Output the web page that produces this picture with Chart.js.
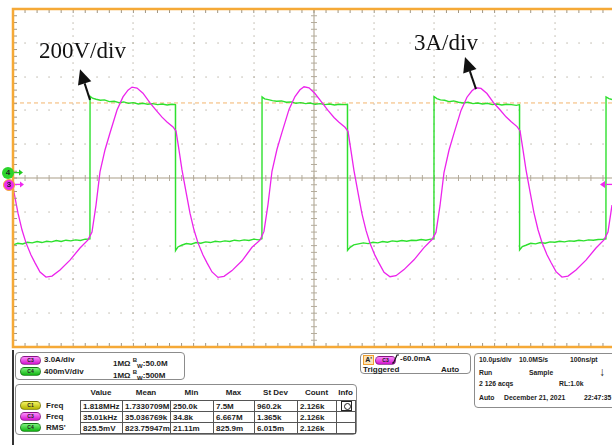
<!DOCTYPE html>
<html>
<head>
<meta charset="utf-8">
<script src="https://cdn.jsdelivr.net/npm/chart.js@4.4.1/dist/chart.umd.min.js"></script>
<style>
  body { margin: 0; width: 612px; height: 445px; position: relative; overflow: hidden; background: #fff; font-family: 'Liberation Sans', Arial, sans-serif; }
  #wrap { position: absolute; left: 0; top: 0; width: 612px; height: 350px; }
  .note { position: absolute; font: 23px 'Liberation Serif', 'DejaVu Serif', serif; line-height: 23px; color: #111; white-space: nowrap; }
  .mark { position: absolute; width: 12px; height: 12px; border-radius: 50%; box-sizing: border-box; font: bold 8px 'Liberation Sans', Arial, sans-serif; line-height: 12px; text-align: center; color: #222; }
  .box { position: absolute; border: 1.5px solid #8c8c8c; border-radius: 4px; box-sizing: border-box; background: #fff; }
  .t { position: absolute; font: bold 8px 'Liberation Sans', Arial, sans-serif; line-height: 10px; color: #1c1c1c; white-space: nowrap; }
  .s { font-size: 6.8px; }
  .c { text-align: center; }
  .badge { position: absolute; width: 21px; height: 9px; border-radius: 5px; box-sizing: border-box; border: 1px solid rgba(0,0,0,0.35); font: bold 5px 'Liberation Sans', Arial, sans-serif; line-height: 7px; text-align: center; color: #222; }
  .b3 { background: linear-gradient(#ff8cff, #d014cc); }
  .b4 { background: linear-gradient(#7cf57c, #12b412); }
  .b1 { background: linear-gradient(#f4f460, #b4b400); }
  table.meas { position: absolute; left: 80px; top: 400px; border-collapse: collapse; table-layout: fixed; }
  table.meas td { border: 1px solid #555; height: 10px; padding: 0 0 0 2px; font: bold 8px 'Liberation Sans', Arial, sans-serif; line-height: 9px; color: #1c1c1c; white-space: nowrap; overflow: hidden; }
</style>
</head>
<body>
<div id="wrap"><canvas id="scope"></canvas></div>

<div class="note" style="left:39px; top:39px;">200V/div</div>
<div class="note" style="left:414px; top:31px;">3A/div</div>

<div class="mark" style="left:2px; top:166.5px; background:#2bd42b;">4</div>
<div class="mark" style="left:3px; top:178.5px; background:#ee2aee; border:1.5px solid #f5a937; line-height:9px;">3</div>

<div style="position:absolute; left:12px; top:350px; width:1.5px; height:95px; background:#333;"></div>

<div class="box" style="left:15px; top:352px; width:170px; height:28px;"></div>
<div class="badge b3" style="left:20px; top:356px;">C3</div>
<div class="t" style="left:44px; top:355px;">3.0A/div</div>
<div class="t" style="left:113px; top:355px;">1MΩ <sup style="font-size:6px">B</sup><sub style="font-size:6px">W</sub>:50.0M</div>
<div class="badge b4" style="left:20px; top:367px;">C4</div>
<div class="t" style="left:44px; top:367px;">400mV/div</div>
<div class="t" style="left:113px; top:367px;">1MΩ <sup style="font-size:6px">B</sup><sub style="font-size:6px">W</sub>:500M</div>

<div class="box" style="left:15px; top:384px; width:342px; height:51px;"></div>
<div class="t c" style="left:80px; top:388px; width:42px;">Value</div>
<div class="t c" style="left:122px; top:388px; width:48px;">Mean</div>
<div class="t c" style="left:170px; top:388px; width:43px;">Min</div>
<div class="t c" style="left:213px; top:388px; width:41px;">Max</div>
<div class="t c" style="left:254px; top:388px; width:43px;">St Dev</div>
<div class="t c" style="left:297px; top:388px; width:39px;">Count</div>
<div class="t c" style="left:336px; top:388px; width:19px;">Info</div>
<div class="badge b1" style="left:20px; top:401px;">C1</div>
<div class="t" style="left:46px; top:400.5px;">Freq</div>
<div class="badge b3" style="left:20px; top:412px;">C3</div>
<div class="t" style="left:46px; top:411.5px;">Freq</div>
<div class="badge b4" style="left:20px; top:423px;">C4</div>
<div class="t" style="left:46px; top:422.5px;">RMS'</div>
<table class="meas">
  <colgroup><col style="width:42px"><col style="width:48px"><col style="width:43px"><col style="width:41px"><col style="width:43px"><col style="width:39px"><col style="width:19px"></colgroup>
  <tr><td>1.818MHz</td><td>1.7330709M</td><td>250.0k</td><td>7.5M</td><td>960.2k</td><td>2.126k</td><td><div style="width:9px;height:8px;border:1px solid #222;margin-left:2px;position:relative"><div style="position:absolute;left:1.5px;top:1px;width:5px;height:5px;border:1px solid #222;border-radius:50%"></div></div></td></tr>
  <tr><td>35.01kHz</td><td>35.036769k</td><td>34.8k</td><td>6.667M</td><td>1.365k</td><td>2.126k</td><td></td></tr>
  <tr><td>825.5mV</td><td>823.75947m</td><td>21.11m</td><td>825.9m</td><td>6.015m</td><td>2.126k</td><td></td></tr>
</table>

<div class="box" style="left:360px; top:353px; width:111px; height:21px;"></div>
<div style="position:absolute; left:363px; top:355px; width:11px; height:10px; box-sizing:border-box; border:1px solid #f0a030; background:#fbe3b8; font:bold 7px 'Liberation Sans', Arial, sans-serif; line-height:8px; text-align:center; color:#222;">A'</div>
<div class="badge b3" style="left:375px; top:355.5px;">C3</div>
<svg style="position:absolute; left:392px; top:354px;" width="7" height="10"><path d="M0 9 H1.5 L5 1 H7" stroke="#111" stroke-width="1.2" fill="none"/></svg>
<div class="t" style="left:400px; top:354px;">-60.0mA</div>
<div class="t" style="left:363px; top:365px;">Triggered</div>
<div class="t" style="left:441px; top:365px;">Auto</div>

<div class="box" style="left:474px; top:353px; width:146px; height:55px;"></div>
<div class="t s" style="left:479px; top:355px;">10.0µs/div</div>
<div class="t s" style="left:519px; top:355px;">10.0MS/s</div>
<div class="t s" style="left:570px; top:355px;">100ns/pt</div>
<div class="t s" style="left:479px; top:368px;">Run</div>
<div class="t s" style="left:529px; top:368px;">Sample</div>
<div class="t" style="left:599px; top:366px; font-size:12px; line-height:12px;">↓</div>
<div class="t s" style="left:479px; top:379px;">2 126 acqs</div>
<div class="t s" style="left:559px; top:379px;">RL:1.0k</div>
<div class="t s" style="left:479px; top:393px;">Auto</div>
<div class="t s" style="left:504px; top:393px;">December 21, 2021</div>
<div class="t s" style="left:584px; top:393px;">22:47:35</div>

<script>
// time in µs (10 µs/div), values in screen divisions
const greenTime = [
  0, 0.8, 1.6, 2.4, 3.2, 4.0, 4.8, 5.6, 6.4, 7.2, 8.0, 8.8, 9.6, 10.4, 11.2, 12.0, 12.78,
  12.8, 13.2, 13.8, 14.5, 15.2, 16.0, 16.8, 17.6, 18.4, 19.2, 20.0, 20.8, 21.6, 22.4, 23.2, 24.0, 24.8, 25.6, 26.4, 26.98,
  27.0, 27.4, 28.0, 28.8, 29.6, 30.4, 31.2, 32.0, 32.8, 33.6, 34.4, 35.2, 36.0, 36.8, 37.6, 38.4, 39.2, 40.0, 40.8, 41.35,
  41.37, 41.8, 42.4, 43.1, 43.8, 44.6, 45.4, 46.2, 47.0, 47.8, 48.6, 49.4, 50.2, 51.0, 51.8, 52.6, 53.4, 54.2, 55.0, 55.55,
  55.57, 56.0, 56.6, 57.4, 58.2, 59.0, 59.8, 60.6, 61.4, 62.2, 63.0, 63.8, 64.6, 65.4, 66.2, 67.0, 67.8, 68.6, 69.4, 69.92,
  69.94, 70.4, 71.0, 71.7, 72.4, 73.2, 74.0, 74.8, 75.6, 76.4, 77.2, 78.0, 78.8, 79.6, 80.4, 81.2, 82.0, 82.8, 83.6, 84.13,
  84.15, 84.6, 85.2, 86.0, 86.8, 87.6, 88.4, 89.2, 90.0, 90.8, 91.6, 92.4, 93.2, 94.0, 94.8, 95.6, 96.4, 97.2, 98.0, 98.49,
  98.51, 99.0, 99.5
]
const greenDiv = [
  -1.98, -1.93, -1.95, -1.90, -1.92, -1.88, -1.91, -1.87, -1.89, -1.85, -1.88, -1.84, -1.86, -1.83, -1.85, -1.81, -1.80,
  2.42, 2.36, 2.33, 2.30, 2.31, 2.26, 2.27, 2.23, 2.25, 2.21, 2.23, 2.19, 2.21, 2.18, 2.20, 2.17, 2.19, 2.16, 2.18, 2.17,
  -2.15, -2.04, -1.99, -1.94, -1.96, -1.91, -1.93, -1.89, -1.91, -1.87, -1.89, -1.86, -1.88, -1.84, -1.86, -1.83, -1.85, -1.81, -1.83, -1.80,
  2.40, 2.34, 2.32, 2.29, 2.27, 2.28, 2.24, 2.25, 2.21, 2.23, 2.20, 2.22, 2.18, 2.20, 2.17, 2.19, 2.16, 2.18, 2.17, 2.18,
  -2.14, -2.05, -1.98, -1.95, -1.92, -1.94, -1.90, -1.92, -1.88, -1.90, -1.86, -1.88, -1.85, -1.87, -1.84, -1.85, -1.82, -1.84, -1.81, -1.80,
  2.41, 2.35, 2.31, 2.30, 2.26, 2.28, 2.24, 2.22, 2.24, 2.20, 2.22, 2.19, 2.21, 2.17, 2.19, 2.16, 2.18, 2.17, 2.15, 2.17,
  -2.13, -2.03, -1.99, -1.93, -1.95, -1.91, -1.93, -1.89, -1.90, -1.87, -1.89, -1.86, -1.87, -1.84, -1.86, -1.83, -1.84, -1.82, -1.81, -1.80,
  2.40, 2.35, 2.32
]
const magentaTime = [
  0, 0.83, 1.50, 2.16, 2.99, 3.66, 4.49,
  5.48, 6.48, 7.81, 9.47, 11.13, 12.46, 13.12, 13.79, 14.45, 15.28, 16.11, 17.28, 18.27, 19.10, 19.77, 20.60,
  21.59, 22.76, 23.75, 24.75, 25.58, 26.58, 27.08, 27.57, 28.07, 28.74, 29.40, 30.07, 30.73, 31.56, 32.23, 33.06,
  34.05, 35.05, 36.38, 38.04, 39.70, 41.03, 41.69, 42.36, 43.02, 43.85, 44.68, 45.85, 46.84, 47.67, 48.34, 49.17,
  50.16, 51.33, 52.32, 53.32, 54.15, 55.15, 55.65, 56.14, 56.64, 57.31, 57.97, 58.64, 59.30, 60.13, 60.80, 61.63,
  62.62, 63.62, 64.95, 66.61, 68.27, 69.60, 70.26, 70.93, 71.59, 72.42, 73.25, 74.42, 75.41, 76.24, 76.91, 77.74,
  78.73, 79.90, 80.89, 81.89, 82.72, 83.72, 84.22, 84.71, 85.21, 85.88, 86.54, 87.21, 87.87, 88.70, 89.37, 90.20,
  91.19, 92.19, 93.52, 95.18, 96.84, 98.17, 98.83, 99.50
]
const magentaDiv = [
  -0.27, -1.04, -1.54, -1.92, -2.28, -2.51, -2.78,
  -2.93, -2.90, -2.72, -2.43, -2.07, -1.83, -1.60, -0.80, 0.18, 0.83, 1.33, 2.01, 2.40, 2.60, 2.69, 2.66,
  2.51, 2.22, 2.01, 1.80, 1.66, 1.51, 1.39, 0.83, 0.24, -0.41, -1.04, -1.54, -1.92, -2.28, -2.51, -2.78,
  -2.94, -2.91, -2.74, -2.45, -2.05, -1.84, -1.58, -0.78, 0.20, 0.85, 1.35, 2.03, 2.41, 2.61, 2.70, 2.67,
  2.50, 2.23, 2.00, 1.79, 1.65, 1.50, 1.38, 0.81, 0.22, -0.43, -1.06, -1.55, -1.93, -2.29, -2.52, -2.79,
  -2.92, -2.89, -2.71, -2.42, -2.06, -1.82, -1.61, -0.82, 0.16, 0.82, 1.32, 2.00, 2.39, 2.58, 2.67, 2.65,
  2.50, 2.21, 2.02, 1.81, 1.67, 1.52, 1.40, 0.84, 0.25, -0.40, -1.03, -1.53, -1.91, -2.27, -2.50, -2.77,
  -2.93, -2.90, -2.72, -2.43, -2.07, -1.83, -1.60, -0.80
]
const cursorLevel = 2.22
const groundGreen = 0.16
const groundMagenta = -0.19
// annotation arrows: tail -> tip, in (µs, div)
const arrows = [
  { from: [12.79, 2.31], to: [11.13, 3.22] },
  { from: [76.91, 2.63], to: [75.08, 3.58] }
]

function toPoints(xs, ys) {
  return xs.map((t, i) => ({ x: t, y: ys[i] }))
}

function drawArrowHead(ctx, x0, y0, x1, y1, len, half) {
  var ang = Math.atan2(y1 - y0, x1 - x0)
  var bx = x1 - len * Math.cos(ang)
  var by = y1 - len * Math.sin(ang)
  ctx.beginPath()
  ctx.moveTo(x1, y1)
  ctx.lineTo(bx + half * Math.sin(ang), by - half * Math.cos(ang))
  ctx.lineTo(bx - half * Math.sin(ang), by + half * Math.cos(ang))
  ctx.closePath()
  ctx.fill()
  return [bx, by]
}

const scopeDeco = {
  id: 'scopeDeco',
  beforeDatasetsDraw(chart) {
    const { ctx, chartArea: a, scales: { x, y } } = chart
    ctx.save()
    // dotted graticule
    ctx.fillStyle = 'rgba(150,140,120,0.6)'
    for (let t = 10; t < 100; t += 10) {
      if (t === 50) continue
      const px = Math.round(x.getPixelForValue(t))
      for (let k = -25; k <= 25; k++) {
        ctx.fillRect(px - 0.6, Math.round(y.getPixelForValue(k / 5)) - 0.6, 1.3, 1.3)
      }
    }
    for (let d = -4; d <= 4; d++) {
      if (d === 0) continue
      const py = Math.round(y.getPixelForValue(d))
      for (let k = 0; k <= 50; k++) {
        ctx.fillRect(Math.round(x.getPixelForValue(k * 2)) - 0.6, py - 0.6, 1.3, 1.3)
      }
    }
    // centre axes with minor ticks
    const cy = y.getPixelForValue(0)
    const cx = x.getPixelForValue(50)
    ctx.strokeStyle = '#c6bfb0'
    ctx.lineWidth = 1.5
    ctx.beginPath()
    ctx.moveTo(a.left, cy); ctx.lineTo(a.right, cy)
    ctx.moveTo(cx, a.top); ctx.lineTo(cx, a.bottom)
    ctx.stroke()
    ctx.lineWidth = 1
    ctx.strokeStyle = '#b3ab9b'
    ctx.beginPath()
    for (let k = 0; k <= 50; k++) {
      const px = x.getPixelForValue(k * 2)
      ctx.moveTo(px, cy - 3); ctx.lineTo(px, cy + 3)
    }
    for (let k = -25; k <= 25; k++) {
      const py = y.getPixelForValue(k / 5)
      ctx.moveTo(cx - 3, py); ctx.lineTo(cx + 3, py)
    }
    ctx.stroke()
    // cursor
    ctx.strokeStyle = '#f3b46c'
    ctx.setLineDash([4, 3])
    ctx.beginPath()
    const ly = y.getPixelForValue(cursorLevel)
    ctx.moveTo(a.left, ly); ctx.lineTo(a.right, ly)
    ctx.stroke()
    ctx.restore()
  },
  afterDatasetsDraw(chart) {
    const { ctx, chartArea: a, scales: { x, y } } = chart
    ctx.save()
    // border ticks
    ctx.strokeStyle = '#9e9686'
    ctx.lineWidth = 1
    ctx.beginPath()
    for (let k = 0; k <= 50; k++) {
      const px = x.getPixelForValue(k * 2)
      ctx.moveTo(px, a.top); ctx.lineTo(px, a.top + 4)
      ctx.moveTo(px, a.bottom); ctx.lineTo(px, a.bottom - 4)
    }
    for (let k = -25; k <= 25; k++) {
      const py = y.getPixelForValue(k / 5)
      ctx.moveTo(a.left, py); ctx.lineTo(a.left + 4, py)
    }
    ctx.stroke()
    // orange frame
    ctx.strokeStyle = '#f5a937'
    ctx.lineWidth = 2.5
    ctx.beginPath()
    ctx.moveTo(a.right + 5, a.top)
    ctx.lineTo(a.left, a.top)
    ctx.lineTo(a.left, a.bottom)
    ctx.lineTo(a.right + 5, a.bottom)
    ctx.stroke()
    // channel ground markers
    const gy = y.getPixelForValue(groundGreen)
    const my = y.getPixelForValue(groundMagenta)
    ctx.lineWidth = 1.3
    ctx.strokeStyle = '#22cc22'; ctx.fillStyle = '#22cc22'
    ctx.beginPath(); ctx.moveTo(a.left + 1, gy); ctx.lineTo(a.left + 6, gy); ctx.stroke()
    drawArrowHead(ctx, a.left, gy, a.left + 10, gy, 4, 3)
    ctx.strokeStyle = '#ee2aee'; ctx.fillStyle = '#ee2aee'
    ctx.beginPath(); ctx.moveTo(a.left + 1, my); ctx.lineTo(a.left + 7, my); ctx.stroke()
    drawArrowHead(ctx, a.left, my, a.left + 11, my, 4, 3)
    ctx.beginPath(); ctx.moveTo(a.right - 6, my); ctx.lineTo(a.right, my); ctx.stroke()
    drawArrowHead(ctx, a.right, my, a.right - 12, my, 5, 3.5)
    // annotation arrows
    ctx.strokeStyle = '#111'; ctx.fillStyle = '#111'
    ctx.lineWidth = 2
    arrows.forEach(ar => {
      const x0 = x.getPixelForValue(ar.from[0]), y0 = y.getPixelForValue(ar.from[1])
      const x1 = x.getPixelForValue(ar.to[0]), y1 = y.getPixelForValue(ar.to[1])
      const base = drawArrowHead(ctx, x0, y0, x1, y1, 15, 7)
      ctx.beginPath(); ctx.moveTo(x0, y0); ctx.lineTo(base[0], base[1]); ctx.stroke()
    })
    ctx.restore()
  }
}

new Chart(document.getElementById('scope'), {
  type: 'scatter',
  data: {
    datasets: [
      {
        label: 'C3 current',
        data: toPoints(magentaTime, magentaDiv),
        showLine: true,
        borderColor: '#ec24ec',
        borderWidth: 1.3,
        pointRadius: 0,
        tension: 0,
        order: 0
      },
      {
        label: 'C4 voltage',
        data: toPoints(greenTime, greenDiv),
        showLine: true,
        borderColor: '#2ee02e',
        borderWidth: 1.4,
        pointRadius: 0,
        tension: 0,
        order: 1
      }
    ]
  },
  options: {
    responsive: true,
    maintainAspectRatio: false,
    animation: false,
    layout: { padding: { left: 13, top: 9, right: 0, bottom: 3 } },
    scales: {
      x: { type: 'linear', min: 0, max: 99.5, display: false },
      y: { type: 'linear', min: -5, max: 5, display: false }
    },
    plugins: { legend: { display: false }, tooltip: { enabled: false } }
  },
  plugins: [scopeDeco]
})
</script>
</body>
</html>
